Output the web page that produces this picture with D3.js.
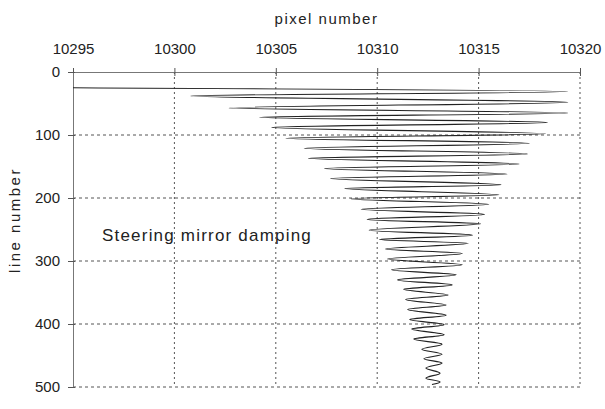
<!DOCTYPE html>
<html>
<head>
<meta charset="utf-8">
<script src="https://cdn.jsdelivr.net/npm/d3@7"></script>
<style>
  body { margin: 0; background: #fff; }
  text { font-family: "Liberation Sans", Arial, sans-serif; }
</style>
</head>
<body>
<div id="chart"></div>
<script>
var width = 605, height = 409;

// turning points of the trace (pixel number, line number)
var pixelNumber = [10295, 10319.4, 10300.8, 10319.4, 10302.7, 10319.4, 10304.2, 10318.4, 10304.8, 10318.3,
  10305.5, 10317.5, 10306.4, 10317.4, 10306.6, 10317.0, 10307.4, 10316.4, 10307.7, 10316.1,
  10308.4, 10316.0, 10308.7, 10315.5, 10309.2, 10315.3, 10309.5, 10315.1, 10309.6, 10314.7,
  10310.1, 10314.5, 10310.4, 10314.2, 10310.5, 10314.2, 10310.7, 10313.9, 10311.0, 10313.7,
  10311.3, 10313.5, 10311.4, 10313.4, 10311.5, 10313.4, 10311.6, 10313.3, 10311.7, 10313.3,
  10311.8, 10313.2, 10312.2, 10313.2, 10312.3, 10313.2, 10312.4, 10313.1, 10312.4, 10313.1, 10312.7];
var lineNumber = [25, 31, 38, 48, 57, 65, 72, 80, 88, 98,
  105, 113, 121, 130, 137, 146, 153, 162, 169, 179,
  185, 195, 201, 210, 218, 226, 234, 241, 251, 259,
  266, 272, 281, 288, 297, 306, 314, 322, 330, 338,
  345, 354, 361, 370, 377, 386, 393, 401, 408, 417,
  424, 432, 440, 448, 455, 462, 470, 478, 486, 492, 496];

var xTicks = [10295, 10300, 10305, 10310, 10315, 10320];
var yTicks = [0, 100, 200, 300, 400, 500];

var svg = d3.select("#chart").append("svg")
  .attr("width", width)
  .attr("height", height);

var x = d3.scaleLinear().domain([10295, 10320]).range([73, 580]);
var y = d3.scaleLinear().domain([0, 500]).range([72, 387]);

// dashed grid
svg.append("g")
  .selectAll("line")
  .data(xTicks.slice(1))
  .enter().append("line")
  .attr("x1", function(d) { return x(d); })
  .attr("x2", function(d) { return x(d); })
  .attr("y1", y(0))
  .attr("y2", y(500))
  .style("stroke", "#555")
  .style("stroke-dasharray", "2,3")
  .style("stroke-width", 1);

svg.append("g")
  .selectAll("line")
  .data(yTicks.slice(1))
  .enter().append("line")
  .attr("x1", x(10295))
  .attr("x2", x(10320))
  .attr("y1", function(d) { return y(d); })
  .attr("y2", function(d) { return y(d); })
  .style("stroke", "#555")
  .style("stroke-dasharray", "3,3")
  .style("stroke-width", 1);

// top axis
var xAxis = svg.append("g")
  .attr("transform", "translate(0," + y(0) + ")")
  .call(d3.axisTop(x).tickValues(xTicks).tickFormat(d3.format("d")).tickSizeInner(4).tickSizeOuter(0).tickPadding(14));
xAxis.select(".domain").style("stroke", "#777");
xAxis.selectAll(".tick line").attr("y1", 4).style("stroke", "#555");
xAxis.selectAll(".tick text")
  .style("font-size", "15px")
  .style("fill", "#222")
  .style("font-family", "'Liberation Sans', Arial, sans-serif");

// left axis
var yAxis = svg.append("g")
  .attr("transform", "translate(" + x(10295) + ",0)")
  .call(d3.axisLeft(y).tickValues(yTicks).tickSizeInner(5).tickSizeOuter(0).tickPadding(8));
yAxis.select(".domain").style("stroke", "#777");
yAxis.selectAll(".tick line").attr("x1", 2).style("stroke", "#555");
yAxis.selectAll(".tick text")
  .style("font-size", "15px")
  .style("fill", "#222")
  .style("font-family", "'Liberation Sans', Arial, sans-serif");

// the damped trace, smooth turns like the original
var pts = pixelNumber.map(function(p, i) { return [p, lineNumber[i]]; });
svg.append("path")
  .datum(pts)
  .attr("d", d3.line()
    .curve(d3.curveMonotoneY)
    .x(function(d) { return x(d[0]); })
    .y(function(d) { return y(d[1]); }))
  .style("fill", "none")
  .style("stroke", "#222")
  .style("stroke-width", 1.1);

// titles
svg.append("text")
  .attr("x", (x(10295) + x(10320)) / 2)
  .attr("y", 24)
  .attr("text-anchor", "middle")
  .style("font-size", "15px")
  .style("letter-spacing", "1.5px")
  .style("fill", "#222")
  .text("pixel number");

svg.append("text")
  .attr("transform", "translate(20,220) rotate(-90)")
  .attr("text-anchor", "middle")
  .style("font-size", "15px")
  .style("letter-spacing", "2.5px")
  .style("fill", "#222")
  .text("line number");

svg.append("text")
  .attr("x", 102)
  .attr("y", 241)
  .style("font-size", "17px")
  .style("letter-spacing", "1.2px")
  .style("fill", "#222")
  .text("Steering mirror damping");
</script>
</body>
</html>
